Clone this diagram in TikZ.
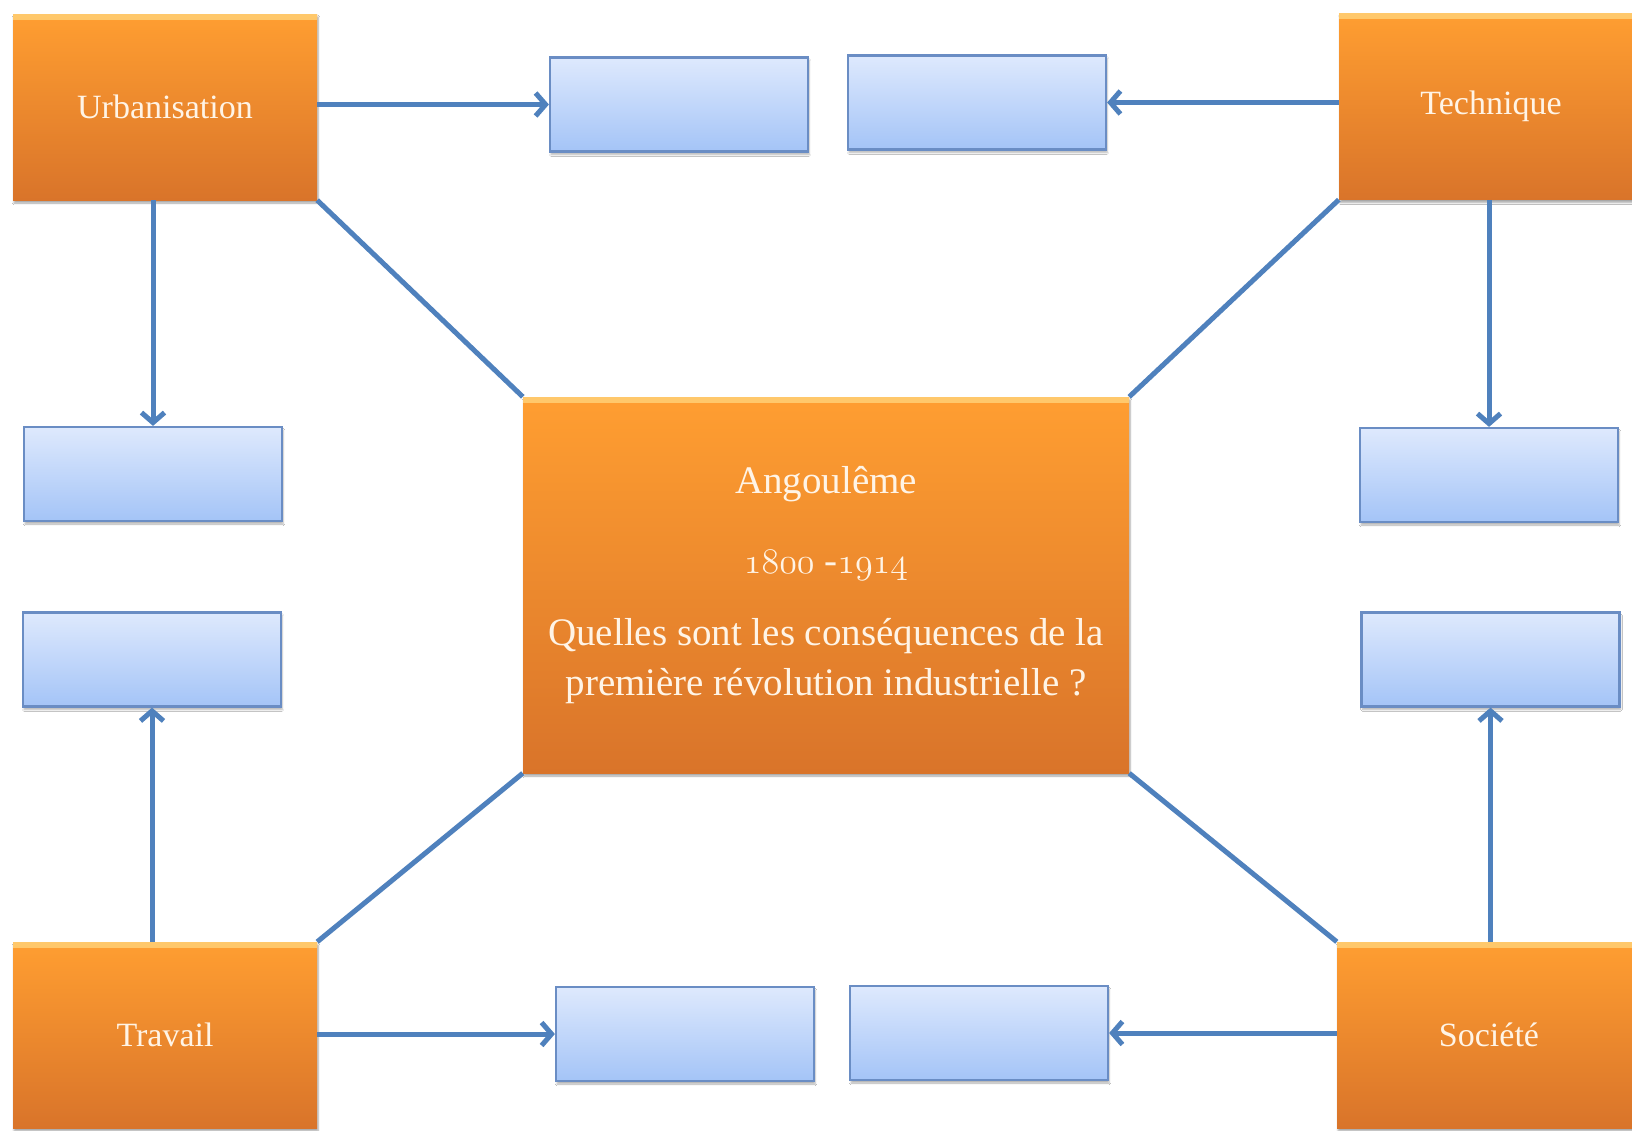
\documentclass[tikz,border=0pt]{standalone}
\usepackage{fontspec}
\setmainfont{Liberation Serif}
\usetikzlibrary{arrows.meta,shadows.blur}
\newcommand{\osnum}[1]{\scalebox{1.45}{\usefont{OML}{cmm}{m}{it}#1}}
\definecolor{OTop}{HTML}{FF9E31}
\definecolor{OBot}{HTML}{D9742A}
\definecolor{OHi}{HTML}{FFD37A}
\definecolor{BTop}{HTML}{DEE9FD}
\definecolor{BBot}{HTML}{A4C4F7}
\definecolor{BBorder}{HTML}{6A8DC4}
\definecolor{LineC}{HTML}{4F81BD}
\definecolor{TxtC}{HTML}{FFF4E6}
\tikzset{
  obox/.style={rectangle, inner sep=0pt, top color=OTop, bottom color=OBot, draw=none,
    text=TxtC, align=center,
    blur shadow={shadow xshift=1pt, shadow yshift=-3pt, shadow blur steps=6, shadow opacity=35},
    path picture={\fill[top color=OHi!80!OTop, bottom color=OTop] (path picture bounding box.north west) rectangle ([yshift=-5pt]path picture bounding box.north east);}},
  lbl/.style={obox, minimum width=304pt, minimum height=186pt, font=\fontsize{34}{40}\selectfont},
  bbox/.style={rectangle, inner sep=0pt, top color=BTop, bottom color=BBot, draw=BBorder, line width=2.2pt,
    minimum width=258pt, minimum height=94pt,
    blur shadow={shadow xshift=1pt, shadow yshift=-3pt, shadow blur steps=5, shadow opacity=30}},
  conn/.style={draw=LineC, line width=5pt},
  arr/.style={conn, -{Straight Barb[length=10pt, width=23pt, line width=5pt]}}
}
\begin{document}
\begin{tikzpicture}[x=1pt, y=-1pt]
\useasboundingbox (0,0) rectangle (1632,1130);
\clip (0,0) rectangle (1632,1130);
\fill[white] (0,0) rectangle (1632,1130);
% orange boxes
\node[lbl] (U)  at (165,107) {Urbanisation};
\node[lbl] (T)  at (1491,106.5) {Technique};
\node[lbl] (Tr) at (165,1035) {Travail};
\node[lbl] (S)  at (1489,1035) {Société};
\node[obox, minimum width=606pt, minimum height=376pt, font=\fontsize{39}{50}\selectfont] (C) at (826,585)
  {Angoulême\\[30pt]\osnum{1800} -\osnum{1914}\\[22pt]Quelles sont les conséquences de la\\première révolution industrielle ?};
% blue boxes
\node[bbox] (b1) at (679,104.5) {};
\node[bbox] (b2) at (977,102.5) {};
\node[bbox] (l1) at (153,474) {};
\node[bbox] (l2) at (152,659.5) {};
\node[bbox] (r1) at (1489,475) {};
\node[bbox] (r2) at (1490.5,659.5) {};
\node[bbox] (d1) at (685,1034) {};
\node[bbox] (d2) at (979,1033) {};
% diagonal connectors
\draw[conn] (U.south east) -- (C.north west);
\draw[conn] (T.south west) -- (C.north east);
\draw[conn] (Tr.north east) -- (C.south west);
\draw[conn] (S.north west) -- (C.south east);
% arrows
\draw[arr] (U.east |- b1.west) -- (b1.west);
\draw[arr] (T.west |- b2.east) -- (b2.east);
\draw[arr] (l1.north |- U.south) -- (l1.north);
\draw[arr] (r1.north |- T.south) -- (r1.north);
\draw[arr] (l2.south |- Tr.north) -- (l2.south);
\draw[arr] (r2.south |- S.north) -- (r2.south);
\draw[arr] (Tr.east |- d1.west) -- (d1.west);
\draw[arr] (S.west |- d2.east) -- (d2.east);
\end{tikzpicture}
\end{document}
